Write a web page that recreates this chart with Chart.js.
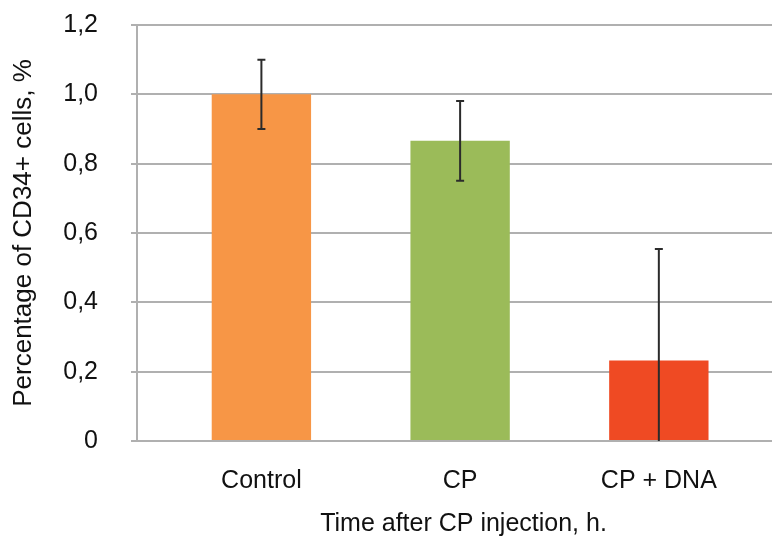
<!DOCTYPE html>
<html lang="en">
<head>
<meta charset="UTF-8">
<title>CD34+ cells</title>
<style>
  html, body { margin: 0; background: #fff; overflow: hidden; }
  /* a little wider than the window: the original plot was cut off on the right */
  #wrap { width: 790px; height: 538px; }
</style>
</head>
<body>
<div id="wrap"><canvas id="myChart"></canvas></div>
<script src="https://cdn.jsdelivr.net/npm/chart.js"></script>
<script>
  // data
  const categories = ['Control', 'CP', 'CP + DNA'];
  const values = [1.0, 0.866, 0.232];
  const errors = [0.1, 0.115, 0.322];
  const barColors = ['#F79646', '#9BBB59', '#EF4A23'];
  const yTicks = [0, 0.2, 0.4, 0.6, 0.8, 1.0, 1.2];

  const family = '"Liberation Sans", Arial, sans-serif';
  const font = { family: family, size: 25 };

  // whiskers drawn through the scales
  const errorBars = {
    id: 'errorBars',
    afterDatasetsDraw(chart) {
      const { ctx } = chart;
      const xs = chart.scales.x, ys = chart.scales.y;
      ctx.save();
      ctx.strokeStyle = '#2b2b2b';
      ctx.lineWidth = 2;
      values.forEach((v, i) => {
        const x = xs.getPixelForValue(i);
        const hi = v + errors[i];
        const lo = Math.max(0, v - errors[i]);
        const yHi = ys.getPixelForValue(hi);
        const yLo = ys.getPixelForValue(lo);
        ctx.beginPath();
        ctx.moveTo(x, yHi);
        ctx.lineTo(x, yLo);
        ctx.moveTo(x - 4, yHi);
        ctx.lineTo(x + 4, yHi);
        if (v - errors[i] > 0) {
          ctx.moveTo(x - 4, yLo);
          ctx.lineTo(x + 4, yLo);
        }
        ctx.stroke();
      });
      ctx.restore();
    }
  };

  new Chart(document.getElementById('myChart'), {
    type: 'bar',
    data: {
      datasets: [{
        data: values.map((v, i) => ({ x: i, y: v })),
        backgroundColor: barColors,
        borderWidth: 0,
        categoryPercentage: 1,
        barPercentage: 0.5
      }]
    },
    options: {
      responsive: true,
      maintainAspectRatio: false,
      animation: false,
      layout: { padding: { left: 0, top: 25, right: 0, bottom: 0 } },
      plugins: { legend: { display: false }, tooltip: { enabled: false } },
      scales: {
        x: {
          type: 'linear',
          offset: false,
          min: -0.626,
          max: 2.66,
          afterBuildTicks: s => { s.ticks = categories.map((c, i) => ({ value: i })); },
          afterFit: s => { s.height = 97; },
          grid: { display: false, drawTicks: false },
          border: { display: false },
          ticks: {
            autoSkip: false,
            maxRotation: 0,
            padding: 25,
            color: '#111',
            font: font,
            callback: v => categories[v]
          },
          title: {
            display: true,
            text: 'Time after CP injection, h.',
            color: '#111',
            font: font,
            padding: { top: 0, bottom: -1 }
          }
        },
        y: {
          min: 0,
          max: 1.2,
          afterBuildTicks: s => { s.ticks = yTicks.map(v => ({ value: v })); },
          afterFit: s => {
            s.width = 137;
            // the wide tick padding should not push the plot down
            s.paddingTop = 0;
            s.paddingBottom = 0;
          },
          grid: { color: '#b0b0b0', lineWidth: 2, tickLength: 6 },
          border: { color: '#b0b0b0', width: 2 },
          ticks: {
            padding: 33,
            color: '#111',
            font: font,
            callback: v => v === 0 ? '0' : v.toFixed(1).replace('.', ',')
          },
          title: {
            display: true,
            text: 'Percentage of CD34+ cells, %',
            color: '#111',
            font: { family: family, size: 26 },
            padding: { top: 8, bottom: 0 }
          }
        }
      }
    },
    plugins: [errorBars]
  });
</script>
</body>
</html>
